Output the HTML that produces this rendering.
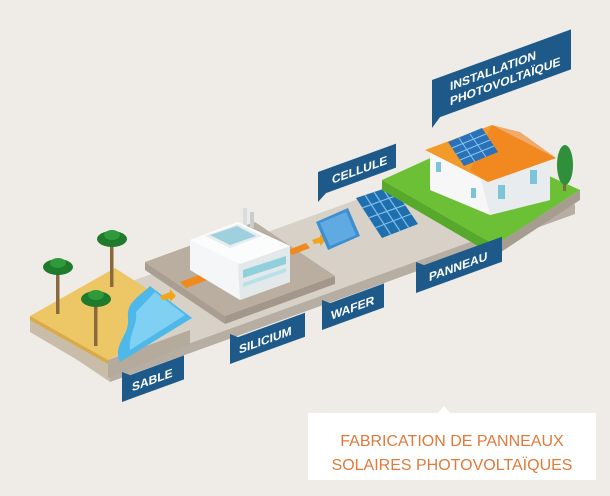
<!DOCTYPE html>
<html><head><meta charset="utf-8"><style>
html,body{margin:0;padding:0;background:#efece7;}
svg{display:block}
.lb{font-family:"Liberation Sans",sans-serif;font-weight:bold;fill:#fff;font-size:12px}
</style></head><body>
<svg width="610" height="496" viewBox="0 0 610 496" xmlns="http://www.w3.org/2000/svg">
<rect width="610" height="496" fill="#efece7"/>
<!-- main strip -->
<polygon points="110,372 575,204 575,214 110,382" fill="#b7aea3"/>
<polygon points="30,318 400,184 575,204 110,372" fill="#d8d1c8"/>
<polygon points="30,318 110,372 110,382 30,328" fill="#c7beb3"/>
<!-- sand tile -->
<polygon points="30,316 108,360 108,378 30,332" fill="#c9bda9"/>
<polygon points="108,360 190,330 190,344 108,378" fill="#b5ab9c"/>
<polygon points="30,316 115,268 192,318 108,360" fill="#edc766"/>
<polygon points="30,316 108,360 108,364 30,320" fill="#d9aa45"/>
<path d="M150,286 L192,318 L120,362 C112,345 130,335 128,318 C126,302 140,296 150,286 Z" fill="#4fb8ea"/>
<path d="M155,292 L185,315 L130,350 C128,335 138,325 136,312 Z" fill="#7fd0f2"/>
<!-- palms -->
<g fill="#8a6a3a"><rect x="56" y="270" width="3.5" height="44"/><rect x="110" y="242" width="3.5" height="45"/><rect x="94" y="300" width="3.5" height="46"/></g>
<g fill="#1f7a2c">
<ellipse cx="58" cy="267" rx="15" ry="8"/><ellipse cx="112" cy="239" rx="15" ry="8"/><ellipse cx="96" cy="299" rx="15" ry="8"/>
</g>
<g fill="#2e9a3a"><ellipse cx="58" cy="263" rx="8" ry="5"/><ellipse cx="112" cy="235" rx="8" ry="5"/><ellipse cx="96" cy="295" rx="8" ry="5"/></g>
<!-- silicium platform -->
<polygon points="225,316 335,276 335,284 225,324" fill="#a2978a"/>
<polygon points="145,262 225,316 225,324 145,270" fill="#a99e91"/>
<polygon points="145,262 255,222 335,276 225,316" fill="#b9ae9f"/>
<!-- arrows -->
<polygon points="160,296 170,292 170,289 176,296 170,302 170,299 162,300" fill="#f2a51c"/>
<polygon points="312,240 320,237 320,234 326,240 320,246 320,243 314,244" fill="#f2a51c"/>
<polygon points="428,200 436,197 436,194 442,200 436,206 436,203 430,204" fill="#f2a51c"/>
<!-- conveyors -->
<polygon points="180,282 212,270 218,276 186,288" fill="#ef8a1f"/>
<polygon points="288,250 306,243 310,248 292,255" fill="#ef8a1f"/>
<!-- factory -->
<rect x="243" y="208" width="4" height="18" fill="#d8dde0"/><rect x="250" y="212" width="4" height="16" fill="#c8cdd0"/>
<polygon points="190,240 238,222 290,246 290,282 240,300 190,270" fill="#f4f6f7"/>
<polygon points="238,262 290,246 290,282 240,300" fill="#e3e8ea"/>
<polygon points="190,240 238,222 290,246 240,264" fill="#fbfcfc"/>
<polygon points="205,236 238,224 262,236 230,248" fill="#e8eef0"/>
<polygon points="210,235 237,226 256,236 230,245" fill="#9fd0de"/>
<polygon points="243,270 286,256 286,264 243,278" fill="#8fd0dc"/>
<polygon points="243,283 286,268 286,272 243,287" fill="#b7e0e8"/>
<!-- wafer & panel -->
<polygon points="316,222 348,208 360,236 328,250" fill="#3f8fd0"/>
<polygon points="320,223 346,212 356,235 330,246" fill="#5faae0"/>
<polygon points="356,198 392,186 418,224 382,238" fill="#1f6fae"/>
<g stroke="#7fbde8" stroke-width="1.2">
<line x1="362" y1="208" x2="398" y2="195"/><line x1="368" y1="218" x2="405" y2="205"/><line x1="375" y1="228" x2="411" y2="214"/>
<line x1="365" y1="195" x2="391" y2="235"/><line x1="374" y1="192" x2="400" y2="231"/><line x1="383" y1="189" x2="409" y2="228"/>
</g>
<!-- grass -->
<polygon points="495,245 580,190 580,200 495,256" fill="#a69d90"/>
<polygon points="382,180 495,245 495,256 382,190" fill="#56a92a"/>
<polygon points="382,180 470,140 580,190 495,245" fill="#6cc036"/>
<!-- house -->
<polygon points="430,150 495,130 550,160 550,200 490,215 430,190" fill="#f7f7f7"/>
<polygon points="480,176 550,158 550,200 490,215" fill="#e9ecee"/>
<polygon points="425,150 492,125 556,158 488,182" fill="#f29a2a"/>
<polygon points="488,182 556,158 520,132 492,125 470,170" fill="#f07e1a" opacity="0.6"/>
<polygon points="448,142 482,128 498,152 464,166" fill="#2a72b8"/>
<g stroke="#8ac3ec" stroke-width="1"><line x1="452" y1="148" x2="486" y2="134"/><line x1="456" y1="154" x2="490" y2="140"/><line x1="460" y1="160" x2="494" y2="146"/><line x1="459" y1="138" x2="475" y2="162"/><line x1="470" y1="134" x2="486" y2="157"/></g>
<g fill="#7cc4d8"><rect x="436" y="162" width="5" height="10"/><rect x="498" y="185" width="7" height="14"/><rect x="530" y="170" width="7" height="14"/><rect x="471" y="188" width="5" height="10"/></g>
<rect x="563" y="175" width="3" height="16" fill="#8a6a3a"/>
<ellipse cx="565" cy="165" rx="8" ry="20" fill="#2f8f3a"/>
<!-- labels -->
<g transform="translate(122,378) skewY(-20)"><polygon points="0,-6 8,0 62,0 62,24 0,24" fill="#1d5a8a"/><text class="lb" x="10" y="17">SABLE</text></g>
<g transform="translate(230,340) skewY(-20)"><polygon points="0,-6 8,0 75,0 75,24 0,24" fill="#1d5a8a"/><text class="lb" x="9" y="17">SILICIUM</text></g>
<g transform="translate(322,306) skewY(-20)"><polygon points="0,-6 8,0 62,0 62,24 0,24" fill="#1d5a8a"/><text class="lb" x="9" y="17">WAFER</text></g>
<g transform="translate(416,268) skewY(-20)"><polygon points="0,-6 8,0 86,0 86,25 0,25" fill="#1d5a8a"/><text class="lb" x="13" y="18">PANNEAU</text></g>
<g transform="translate(318,172) skewY(-20)"><polygon points="0,0 78,0 78,24 8,24 0,30" fill="#1d5a8a"/><text class="lb" x="14" y="17">CELLULE</text></g>
<g transform="translate(432,80) skewY(-20)"><polygon points="0,0 139,0 139,40 8,40 0,48" fill="#1d5a8a"/><text class="lb" x="18" y="17">INSTALLATION</text><text class="lb" x="18" y="32">PHOTOVOLTAÏQUE</text></g>
<!-- caption -->
<polygon points="308,413 438,413 444,406 450,413 596,413 596,480 308,480" fill="#ffffff"/>
<text x="452" y="446" text-anchor="middle" font-family="Liberation Sans,sans-serif" font-size="16" fill="#e07a3a">FABRICATION DE PANNEAUX</text>
<text x="452" y="470" text-anchor="middle" font-family="Liberation Sans,sans-serif" font-size="16" fill="#e07a3a">SOLAIRES PHOTOVOLTAÏQUES</text>
</svg>
</body></html>
